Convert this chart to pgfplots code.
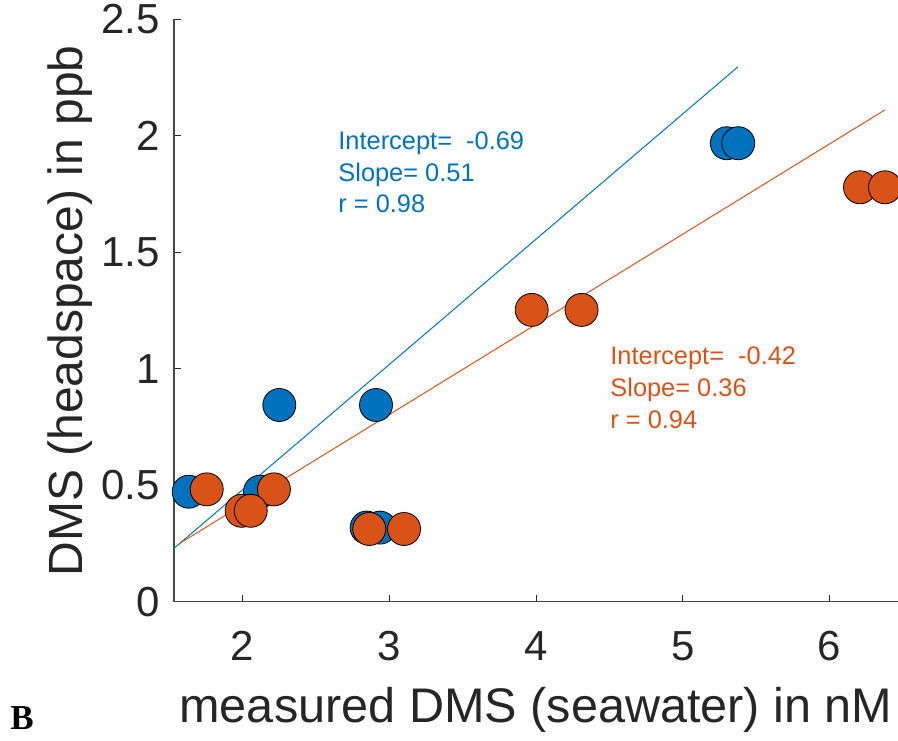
\documentclass[border=0pt]{standalone}
\usepackage{fontspec}
\setmainfont{Liberation Sans}
\newfontfamily\panelfont{Liberation Serif}
\usepackage{pgfplots}
\pgfplotsset{compat=1.18}

\definecolor{mblue}{HTML}{0072BD}
\definecolor{morange}{HTML}{D95319}
\definecolor{axgray}{HTML}{262626}

% measured DMS (nM) vs headspace DMS (ppb)
\pgfplotstableread{
x      y
1.632  0.472
2.118  0.472
2.250  0.844
2.909  0.844
2.845  0.318
2.936  0.318
5.300  1.967
5.378  1.967
}\bluedata
\pgfplotstableread{
x      y
1.755  0.482
2.213  0.482
1.993  0.390
2.055  0.390
2.863  0.312
3.100  0.312
3.970  1.252
4.310  1.252
6.208  1.778
6.378  1.778
}\orangedata

\begin{document}
\begin{tikzpicture}[x=1pt,y=1pt]
\useasboundingbox (0,0) rectangle (449,370);
\begin{axis}[
  at={(87pt,69.15pt)}, anchor=south west,
  scale only axis, width=362pt, height=291.35pt,
  xmin=1.532, xmax=6.467, ymin=0, ymax=2.5,
  axis lines*=left,
  axis line style={-, draw=axgray!85, line width=0.6pt},
  tick align=inside, major tick length=3.5pt,
  tick style={axgray, line width=0.5pt},
  xtick={2,3,4,5,6},
  ytick={0,0.5,1,1.5,2,2.5},
  /pgf/number format/assume math mode=true,
  ticklabel style={font=\fontsize{21}{25}\selectfont, text=axgray},
  xticklabel style={anchor=base, yshift=-29.15pt},
  yticklabel style={anchor=east, inner sep=0pt, xshift=-7pt},
  xlabel={measured DMS (seawater) in nM},
  ylabel={DMS (headspace) in ppb},
  xlabel style={font=\fontsize{24.3}{28}\selectfont, text=axgray,
    at={(axis description cs:0.5,-0.2065)}, anchor=base},
  ylabel style={font=\fontsize{24}{28}\selectfont, text=axgray,
    at={(axis description cs:-0.1257,0.499)}, anchor=base},
]
\addplot[only marks, mark=*, mark size=8.25pt,
  mark options={fill=mblue, draw=black, line width=0.4pt}]
  table[x=x, y=y] {\bluedata};
\addplot[only marks, mark=*, mark size=8.25pt,
  mark options={fill=morange, draw=black, line width=0.4pt}]
  table[x=x, y=y] {\orangedata};
% least-squares lines
\addplot[mblue, line width=0.5pt] coordinates {(1.532,0.229) (5.376,2.295)};
\addplot[morange, line width=0.5pt] coordinates {(1.573,0.251) (6.378,2.110)};
% fit statistics
\begin{scope}[every node/.style={anchor=base west, inner sep=0pt,
    font=\fontsize{12.7}{15}\selectfont}]
\node[text=mblue] at (axis cs:2.65,1.939) {Intercept=\ \ -0.69};
\node[text=mblue] at (axis cs:2.65,1.803) {Slope= 0.51};
\node[text=mblue] at (axis cs:2.65,1.668) {r = 0.98};
\node[text=morange] at (axis cs:4.504,1.016) {Intercept=\ \ -0.42};
\node[text=morange] at (axis cs:4.504,0.880) {Slope= 0.36};
\node[text=morange] at (axis cs:4.504,0.741) {r = 0.94};
\end{scope}
\end{axis}
\node[anchor=south west, inner sep=0pt, font=\panelfont\bfseries\fontsize{17.5}{20}\selectfont]
  at (5,5) {B};
\end{tikzpicture}
\end{document}
